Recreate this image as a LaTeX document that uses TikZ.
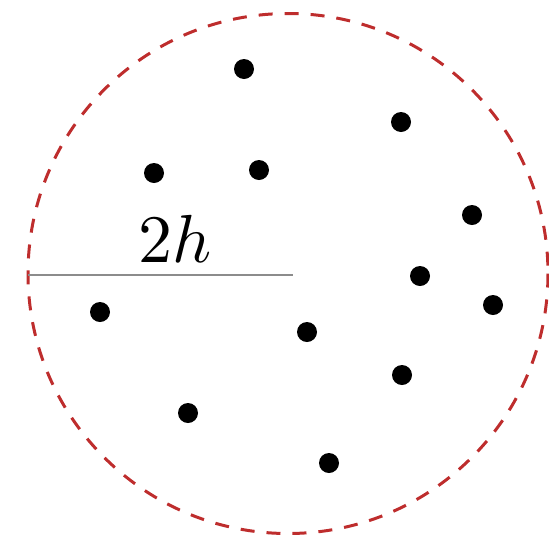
\documentclass[tikz,border=0pt]{standalone}
\usepackage{graphicx}
\begin{document}
\begin{tikzpicture}[x=1pt,y=-1pt,
  ring/.style={draw={rgb,255:red,190;green,45;blue,45},line width=3pt,dash pattern=on 14pt off 12pt},
  pt/.style={circle,fill=black,inner sep=0pt,minimum size=20pt},
  radius line/.style={draw=gray!90,line width=1.5pt}]
\useasboundingbox (0,0) rectangle (549,539);
\coordinate (c) at (288,273.5);
\draw[ring] (c) circle[radius=260];
\coordinate (l) at (28,275);
\coordinate (r) at (293,275);
\draw[radius line] (l) -- (r);
\node[anchor=base,inner sep=0pt] (lab) at (175.5,262) {\scalebox{6.8}{$2h$}};
\foreach \x/\y [count=\i] in {244/69,401/122,154/173,259/170,472/215,420/276,493/305,100/312,307/332,402/375,188/413,329/463}
  \node[pt] (p\i) at (\x,\y) {};
\end{tikzpicture}
\end{document}
